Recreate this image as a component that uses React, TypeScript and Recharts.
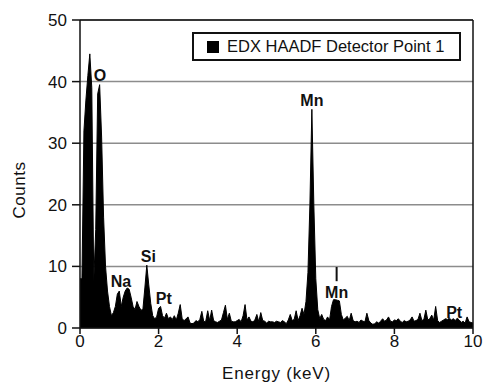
import { AreaChart, Area, XAxis, YAxis, CartesianGrid, ReferenceLine, ReferenceDot, Legend } from 'recharts'

const FONT = '"Liberation Sans", Arial, Helvetica, sans-serif'

// spectrum channels, 0.05 keV wide, 0 – 10 keV
const CHANNEL_KEV = 0.05
const counts = [
  8, 8, 32, 37, 41, 44.5, 39, 7.5, 16, 38, 39.5, 31, 18, 10, 6, 3.5, 2, 2.5, 3.5, 5.5,
  6, 3.5, 5, 6, 6.5, 6.3, 5, 3.5, 3, 4.3, 3.5, 2.9, 3, 6.5, 10.2, 7, 4, 2, 1.5, 1.8,
  3.2, 3.5, 2, 1.6, 2.4, 1.5, 1.8, 1.4, 2, 1.3, 2.4, 3.8, 1.5, 1.2, 1.5, 1.8, 0.8, 0.7, 0.8, 1.2,
  1, 1.4, 2.7, 1, 1.1, 2.8, 1.2, 2.9, 1.2, 1, 0.9, 1.1, 1.3, 2.5, 3.7, 1.4, 2.4, 1.1, 1, 1,
  1.2, 1.4, 1, 2, 3.8, 1.3, 1.8, 1.1, 1, 1.3, 2.2, 1, 2.5, 1.2, 1.1, 0.8, 1.1, 1, 1, 0.9,
  1.1, 1, 0.9, 1.2, 1, 0.7, 1.3, 2.2, 1.2, 1.4, 2.8, 1.2, 2, 3.2, 2.2, 4.3, 9, 20, 35.5, 20,
  8, 3, 1.5, 2.2, 1.4, 1.2, 1.8, 1.3, 3.5, 4.6, 4.6, 4.5, 4.4, 2.2, 1.3, 1.6, 1.9, 1.2, 2.4, 1.2,
  1, 1.1, 0.9, 1.3, 1.1, 1, 2.4, 1.2, 0.8, 0.6, 0.7, 1, 0.8, 1.1, 1.5, 1.1, 1.3, 1.8, 1.1, 1,
  1.3, 1.2, 1.5, 1.1, 0.9, 1.2, 1, 1.1, 1.3, 1.8, 1.1, 1.2, 1.4, 2.4, 1.2, 1.4, 2.9, 1.3, 1.5, 2.1,
  1.3, 3.5, 1.2, 0.9, 1.1, 1.3, 1.5, 1.4, 1.6, 1.3, 1.5, 1.2, 1.6, 1.3, 0.9, 1.1, 0.8, 1.8, 1, 0.9,
  0.8,
]

const xTicks = [0, 2, 4, 6, 8, 10]
const yTicks = [0, 10, 20, 30, 40, 50]

// element labels, placed in data coordinates
const peakLabels = [
  { el: 'O', keV: 0.51, counts: 41 },
  { el: 'Na', keV: 1.04, counts: 7.6 },
  { el: 'Si', keV: 1.74, counts: 11.6 },
  { el: 'Pt', keV: 2.13, counts: 4.8 },
  { el: 'Mn', keV: 5.9, counts: 37 },
  { el: 'Mn', keV: 6.53, counts: 5.8 },
  { el: 'Pt', keV: 9.52, counts: 2.6 },
]

const seriesName = 'EDX HAADF Detector Point 1'

const data = counts.map((c, i) => ({ keV: +(i * CHANNEL_KEV).toFixed(2), counts: c }))

function LegendBox() {
  return (
    <div
      style={{
        boxSizing: 'border-box',
        width: 269,
        height: 29,
        border: '2px solid #111',
        background: '#fff',
        display: 'flex',
        alignItems: 'center',
        paddingLeft: 13,
        fontFamily: FONT,
        fontSize: 16.5,
        color: '#111',
      }}
    >
      <span style={{ width: 12, height: 12, background: '#000', marginRight: 8, display: 'inline-block' }} />
      <span>{seriesName}</span>
    </div>
  )
}

export default function App() {
  return (
    <div style={{ position: 'absolute', left: 0, top: 0, width: 485, height: 383, background: '#fff' }}>
      <AreaChart
        width={485}
        height={383}
        data={data}
        margin={{ top: 20, right: 12, bottom: 0, left: 0 }}
        style={{ fontFamily: FONT }}
      >
        <CartesianGrid vertical={false} stroke="#8c8c8c" strokeWidth={1.5} />
        <XAxis
          type="number"
          dataKey="keV"
          domain={[0, 10]}
          ticks={xTicks}
          interval={0}
          height={55}
          tickSize={6}
          tickMargin={1}
          stroke="#111"
          strokeWidth={1.5}
          tick={{ fontSize: 17, fill: '#111' }}
          label={{ value: 'Energy (keV)', position: 'insideBottom', offset: 4, fontSize: 17, fill: '#111', letterSpacing: 0.8 }}
        />
        <YAxis
          type="number"
          domain={[0, 50]}
          ticks={yTicks}
          interval={0}
          width={80}
          tickSize={8}
          tickMargin={5}
          stroke="#111"
          strokeWidth={1.5}
          tick={{ fontSize: 17, fill: '#111' }}
          label={{
            content: (props: any) => {
              const vb = props.viewBox || { x: 0, y: 20, height: 308 }
              const x = vb.x + 19
              const y = vb.y + vb.height / 2 + 16
              return (
                <text
                  x={x}
                  y={y}
                  transform={`rotate(-90 ${x} ${y})`}
                  textAnchor="middle"
                  dominantBaseline="central"
                  fontSize={17}
                  fill="#111"
                  letterSpacing={0.5}
                >
                  Counts
                </text>
              )
            },
          }}
        />
        <Area
          type="linear"
          dataKey="counts"
          name={seriesName}
          stroke="#000"
          strokeWidth={1}
          fill="#000"
          fillOpacity={1}
          isAnimationActive={false}
        />
        <ReferenceLine y={50} stroke="#111" strokeWidth={1.5} />
        <ReferenceLine x={10} stroke="#111" strokeWidth={1.5} />
        <ReferenceLine segment={[{ x: 6.53, y: 9.9 }, { x: 6.53, y: 7.6 }]} stroke="#111" strokeWidth={2} />
        {peakLabels.map((p, i) => (
          <ReferenceDot
            key={i}
            x={p.keV}
            y={p.counts}
            r={0}
            fill="none"
            stroke="none"
            label={{ value: p.el, position: 'center', fontSize: 16, fontWeight: 'bold', fill: '#111' }}
          />
        ))}
        <Legend
          layout="horizontal"
          verticalAlign="middle"
          wrapperStyle={{ left: 192, top: 32, width: 269, height: 29 }}
          content={() => <LegendBox />}
        />
      </AreaChart>
    </div>
  )
}
